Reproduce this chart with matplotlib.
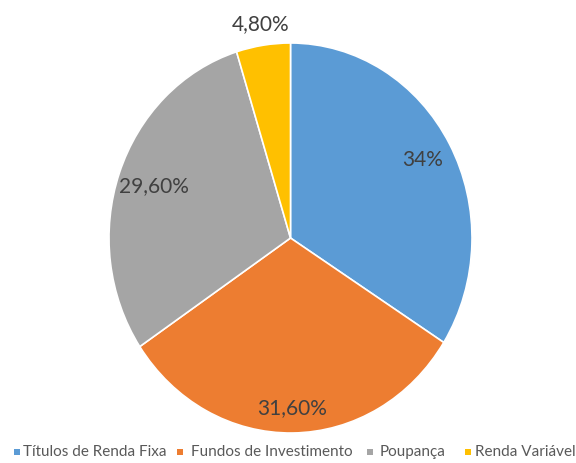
import numpy as np
import matplotlib
matplotlib.use("Agg")
import matplotlib.pyplot as plt

categories = ["Títulos de Renda Fixa", "Fundos de Investimento", "Poupança", "Renda Variável"]
values = [34.0, 31.6, 29.6, 4.8]
value_labels = ["34%", "31,60%", "29,60%", "4,80%"]
colors = ["#5B9BD5", "#ED7D31", "#A5A5A5", "#FFC000"]

# layout: distance of each value label from the centre, legend item positions (pixels)
label_radius = [0.83, 0.87, 0.80, 1.11]
legend_marker_x = [17, 180, 370, 468]
legend_text_x = [23, 191, 380, 475]
legend_y = 452

plt.rcParams["font.family"] = ["Lato", "DejaVu Sans"]

W, H = 576, 463
fig = plt.figure(figsize=(W / 100, H / 100), dpi=100)
ax = fig.add_axes([109 / W, 30 / H, 363 / W, 390 / H])

wedges, _ = ax.pie(values, colors=colors, startangle=90, counterclock=False,
                   radius=1.0, wedgeprops=dict(edgecolor="white", linewidth=1.2))
ax.set_aspect("auto")
ax.set_xlim(-1, 1)
ax.set_ylim(-1, 1)
ax.axis("off")

for w, lab, r in zip(wedges, value_labels, label_radius):
    ang = np.deg2rad((w.theta1 + w.theta2) / 2)
    ax.text(r * np.cos(ang), r * np.sin(ang), lab, ha="center", va="center",
            fontsize=15, color="#404040", clip_on=False)

# legend drawn item by item along the bottom edge
for name, c, mx, tx in zip(categories, colors, legend_marker_x, legend_text_x):
    fig.patches.append(plt.Rectangle(((mx - 3) / W, (H - legend_y - 2.5) / H), 6 / W, 6 / H,
                                     transform=fig.transFigure, facecolor=c,
                                     edgecolor="none"))
    fig.text(tx / W, (H - legend_y) / H, name, ha="left", va="center",
             fontsize=11, color="#595959")

fig.savefig("out.png", dpi=100, facecolor="white")
